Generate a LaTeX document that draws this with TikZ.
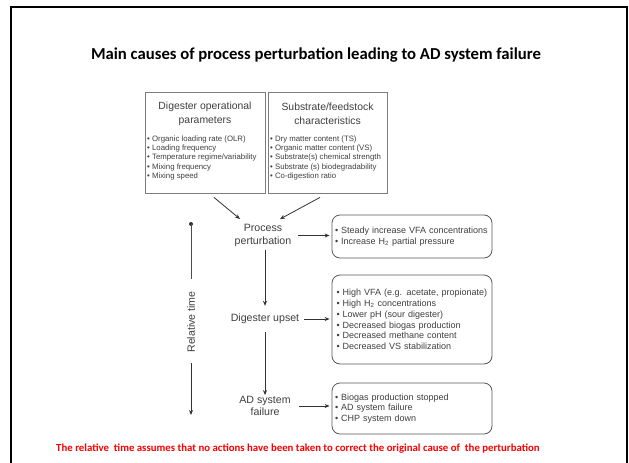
\documentclass[tikz,border=0pt]{standalone}
\usepackage{fontspec}
\setmainfont{Liberation Sans}
\newfontfamily\calibrifont{Carlito}
\usetikzlibrary{arrows.meta}

\definecolor{inkgray}{RGB}{62,62,62}
\definecolor{framegray}{RGB}{125,125,125}
\definecolor{notered}{RGB}{250,0,0}

\newcommand{\bul}{\textbullet\ }

\begin{document}
\begin{tikzpicture}[x=1pt, y=-1pt,
    every node/.style={text=inkgray, inner sep=2pt},
    catbox/.style={draw=framegray, line width=0.8pt,
                   minimum width=120pt, minimum height=101pt},
    cattitle/.style={align=center, font=\fontsize{10.4}{14}\selectfont},
    catlist/.style={align=left, anchor=north west, inner sep=0pt,
                    font=\fontsize{7.8}{9.25}\selectfont},
    stage/.style={align=center, font=\fontsize{10.6}{13}\selectfont},
    symbox/.style={draw=black!65, line width=0.8pt, rounded corners=8pt,
                   minimum width=160pt, text width=154pt, inner xsep=3pt,
                   align=left, font=\fontsize{9}{11}\selectfont},
    flow/.style={draw=black!80, line width=0.8pt,
                 -{Stealth[length=5pt,width=4pt]}}
  ]
  \useasboundingbox (0,0) rectangle (629,463);

  % Frame
  \draw[line width=2.4pt] (11,463) -- (11,7) -- (627,7) -- (627,463);

  % Title
  \node[text=black, font=\calibrifont\bfseries\fontsize{16.7}{19}\selectfont]
    (title) at (316,55)
    {Main causes of process perturbation leading to AD system failure};

  % Causes (two boxes)
  \node[catbox] (opbox) at (205,142.5) {};
  \node[cattitle] (optitle) at (205,114) {Digester operational\\parameters};
  \node[catlist] (oplist) at (147,135.5) {%
    \bul Organic loading rate (OLR)\\
    \bul Loading frequency\\
    \bul Temperature regime/variability\\
    \bul Mixing frequency\\
    \bul Mixing speed};

  \node[catbox, minimum width=119pt] (subbox) at (327.5,142.5) {};
  \node[cattitle] (subtitle) at (327.5,114) {Substrate/feedstock\\characteristics};
  \node[catlist] (sublist) at (270,135.5) {%
    \bul Dry matter content (TS)\\
    \bul Organic matter content (VS)\\
    \bul Substrate(s) chemical strength\\
    \bul Substrate (s) biodegradability\\
    \bul Co-digestion ratio};

  % Stages
  \node[stage] (proc) at (263,235.5) {Process\\perturbation};
  \node[stage] (upset) at (265,319) {Digester upset};
  \node[stage, font=\fontsize{10.6}{12}\selectfont] (fail) at (265,406)
    {AD system\\failure};

  % Symptoms
  \node[symbox, minimum height=43pt] (sym1) at (412,236.5) {%
    \bul Steady increase VFA concentrations\\
    \bul Increase H\textsubscript{2} partial pressure};
  \node[symbox, minimum height=89pt, font=\fontsize{9}{10.8}\selectfont]
    (sym2) at (412,319.5) {%
    \,\bul High VFA (e.g. acetate, propionate)\\
    \,\bul High H\textsubscript{2} concentrations\\
    \,\bul Lower pH (sour digester)\\
    \,\bul Decreased biogas production\\
    \,\bul Decreased methane content\\
    \,\bul Decreased VS stabilization};
  \node[symbox, minimum height=51pt, font=\fontsize{9}{10.5}\selectfont]
    (sym3) at (412,408.5) {%
    \bul Biogas production stopped\\
    \bul AD system failure\\
    \bul CHP system down};

  % Connectors
  \draw[flow] ([xshift=9pt,yshift=-4pt]opbox.south)
    -- ([xshift=-23pt,yshift=3pt]proc.north);
  \draw[flow] ([xshift=-7.5pt,yshift=-4pt]subbox.south)
    -- ([xshift=17pt,yshift=3pt]proc.north);
  \draw[flow] ([xshift=5pt]proc.east) -- ([xshift=-2pt]proc.east -| sym1.west);
  \draw[flow] ([xshift=3pt]upset.east) -- ([xshift=-2pt]upset.east -| sym2.west);
  \draw[flow] ([xshift=6pt]fail.east) -- ([xshift=-2pt]fail.east -| sym3.west);
  \draw[flow, shorten <=1pt, shorten >=6pt] ([xshift=2pt]proc.south)
    -- ([xshift=2pt]proc.south |- upset.north);
  \draw[flow, shorten <=6pt] (upset.south) -- ([yshift=-1pt]fail.north);

  % Relative time
  \node[rotate=90, font=\fontsize{10.6}{12}\selectfont] (reltime) at (191,322)
    {Relative time};
  \coordinate (tstart) at (191,224);
  \coordinate (tend) at (191,415);
  \fill[black!80] (tstart) circle (2pt);
  \draw[draw=black!70, line width=0.8pt, shorten >=10pt]
    (tstart) -- (reltime.east);
  \draw[flow, shorten <=8pt] (reltime.west) -- (tend);

  % Note
  \node[text=notered, font=\calibrifont\bfseries\fontsize{10.8}{12}\selectfont]
    (note) at (298,449)
    {The relative\ \ time assumes that no actions have been taken to correct
     the original cause of\ \ the perturbation};
\end{tikzpicture}
\end{document}
